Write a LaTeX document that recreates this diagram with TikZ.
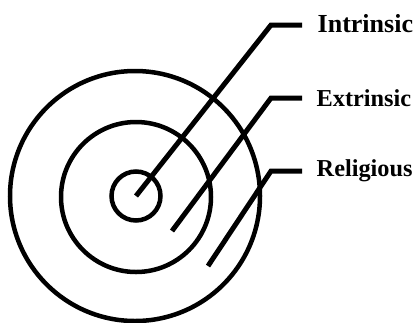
\documentclass[tikz,border=0pt]{standalone}
\usepackage{fontspec}
\setmainfont{Liberation Serif}
\begin{document}
\begin{tikzpicture}[x=1pt,y=-1pt,
  ring/.style={circle,draw=black,line width=4.5pt,inner sep=0pt,outer sep=0pt},
  leader/.style={draw=black,line width=5pt,line join=miter},
  lbl/.style={anchor=base west,inner sep=0pt,font=\bfseries\fontsize{24.3}{27}\selectfont}]
\useasboundingbox (0,0) rectangle (417,322);
\node[ring,minimum size=250pt] (outer) at (135,196) {};
\node[ring,minimum size=150pt] (middle) at (136,197) {};
\node[ring,minimum size=49pt] (inner) at (136,196) {};
\coordinate (s1) at (136,196);
\coordinate (b1) at (271,25);
\coordinate (e1) at (302,25);
\coordinate (s2) at (172,231);
\coordinate (b2) at (271,98);
\coordinate (e2) at (302,98);
\coordinate (s3) at (208,266);
\coordinate (b3) at (271,171);
\coordinate (e3) at (302,171);
\node[lbl,font=\bfseries\fontsize{26}{29}\selectfont] (t1) at (317.5,32.3) {Intrinsic};
\node[lbl] (t2) at (316.5,106) {Extrinsic};
\node[lbl] (t3) at (316.5,176.7) {Religious};
\draw[leader] (s1) -- (b1) -- (e1);
\draw[leader] (s2) -- (b2) -- (e2);
\draw[leader] (s3) -- (b3) -- (e3);
\end{tikzpicture}
\end{document}
